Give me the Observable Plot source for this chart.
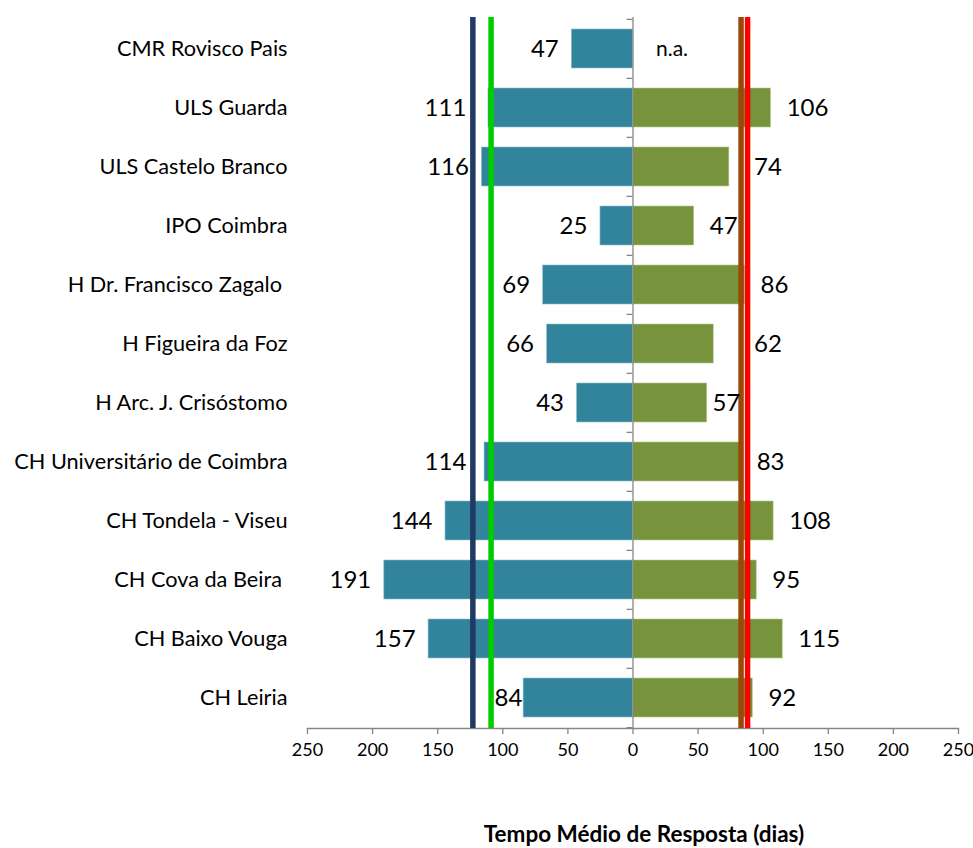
<!DOCTYPE html>
<html>
<head>
<meta charset="utf-8">
<script src="https://cdn.jsdelivr.net/npm/d3@7"></script>
<script src="https://cdn.jsdelivr.net/npm/@observablehq/plot@0.6"></script>
<style>
  html, body { margin: 0; padding: 0; background: #fff; }
  #chart { width: 973px; }
  #title { width: 973px; box-sizing: border-box; padding-left: 315px; text-align: center;
           font-family: Lato, sans-serif; font-weight: bold; font-size: 22.5px; color: #000; margin-top: 40px; }
</style>
</head>
<body>
<div id="chart"></div>
<div id="title">Tempo Médio de Resposta (dias)</div>
<script>
const categories = ["CMR Rovisco Pais", "ULS Guarda", "ULS Castelo Branco", "IPO Coimbra",
  "H Dr. Francisco Zagalo\u00a0", "H Figueira da Foz", "H Arc. J. Crisóstomo",
  "CH Universitário de Coimbra", "CH Tondela - Viseu", "CH Cova da Beira\u00a0",
  "CH Baixo Vouga", "CH Leiria"];
const leftValues  = [47, 111, 116, 25, 69, 66, 43, 114, 144, 191, 157, 84];
const rightValues = [null, 106, 74, 47, 86, 62, 57, 83, 108, 95, 115, 92];
const refValues = [-123, -109, 83, 88];
const refColors = ["#1f3a63", "#00cc00", "#984807", "#ff0000"];
const xTicks = [-250, -200, -150, -100, -50, 0, 50, 100, 150, 200, 250];

const data = categories.map((c, i) => ({cat: c, left: leftValues[i], right: rightValues[i]}));

const W = 973, H = 780, mt = 17, mb = 52, ml = 307, mr = 15;
const step = (H - mt - mb) / categories.length;
const unit = (W - ml - mr) / 500; // px per data unit
const digitW = 13.9 / unit;       // width of one digit in data units

// label placement avoiding the reference lines
const leftZone = [-125.5, -107], rightZone = [82.5, 91];
function leftLabelEnd(v) {
  const w = String(v).length * digitW;
  let end = -(v + 10);
  const overlaps = (e) => !(e < leftZone[0] || e - w > leftZone[1]);
  if (overlaps(end)) {
    end = -(v + 1);
    if (overlaps(end)) end = leftZone[0] - 2.5;
  }
  return end;
}
function rightLabelStart(v) {
  const w = String(v).length * digitW;
  const overlaps = (s) => !(s > rightZone[1] || s + w < rightZone[0]);
  let s = v + 12;
  if (overlaps(s)) {
    s = v + 4;
    if (overlaps(s)) s = rightZone[1] + 2;
  }
  return s;
}
const leftLabels = data.map(d => ({cat: d.cat, text: String(d.left), x: leftLabelEnd(d.left)}));
const rightLabels = data.filter(d => d.right != null).map(d => ({cat: d.cat, text: String(d.right), x: rightLabelStart(d.right)}));
const naLabels = data.filter(d => d.right == null).map(d => ({cat: d.cat, text: "n.a."}));

const gray = "#868686";
const chart = Plot.plot({
  width: W, height: H,
  marginTop: mt, marginBottom: mb, marginLeft: ml, marginRight: mr,
  style: {fontFamily: "Lato, sans-serif", color: "#000", background: "#fff"},
  x: {domain: [-250, 250], ticks: xTicks, tickFormat: d => Math.abs(d), label: null},
  y: {domain: categories, paddingInner: 0.34, paddingOuter: 0.17, axis: null},
  marks: [
    Plot.barX(data, {y: "cat", x1: 0, x2: d => -d.left, fill: "#31849b", stroke: "#8dbfcd", strokeWidth: 0.6}),
    Plot.barX(data.filter(d => d.right != null), {y: "cat", x1: 0, x2: "right", fill: "#77933c", stroke: "#b5c98f", strokeWidth: 0.6}),
    Plot.ruleX([0], {stroke: gray, strokeWidth: 1.3}),
    Plot.ruleY(categories, {y: d => d, x1: 0, x2: -6 / unit, dy: -step / 2, stroke: gray, strokeWidth: 1.3}),
    Plot.ruleY([categories[categories.length - 1]], {y: d => d, x1: 0, x2: -6 / unit, dy: step / 2, stroke: gray, strokeWidth: 1.3}),
    Plot.frame({anchor: "bottom", stroke: gray, strokeWidth: 1.3}),
    Plot.axisX({ticks: xTicks, tickFormat: d => Math.abs(d), tickSize: 6, tickPadding: 9, fontSize: 18, stroke: gray, strokeWidth: 1.3, label: null}),
    Plot.ruleX(refValues, {x: d => d, stroke: (d, i) => refColors[i], strokeWidth: 5.5}),
    Plot.text(data, {y: "cat", text: "cat", frameAnchor: "left", dx: -20, textAnchor: "end", fontSize: 21.7, fill: "#000"}),
    Plot.text(leftLabels, {y: "cat", x: "x", text: "text", textAnchor: "end", fontSize: 24, fill: "#000"}),
    Plot.text(rightLabels, {y: "cat", x: "x", text: "text", textAnchor: "start", fontSize: 24, fill: "#000"}),
    Plot.text(naLabels, {y: "cat", x: 0, text: "text", dx: 23, textAnchor: "start", fontSize: 21, fill: "#000"})
  ]
});
document.getElementById("chart").appendChild(chart);
</script>
</body>
</html>
